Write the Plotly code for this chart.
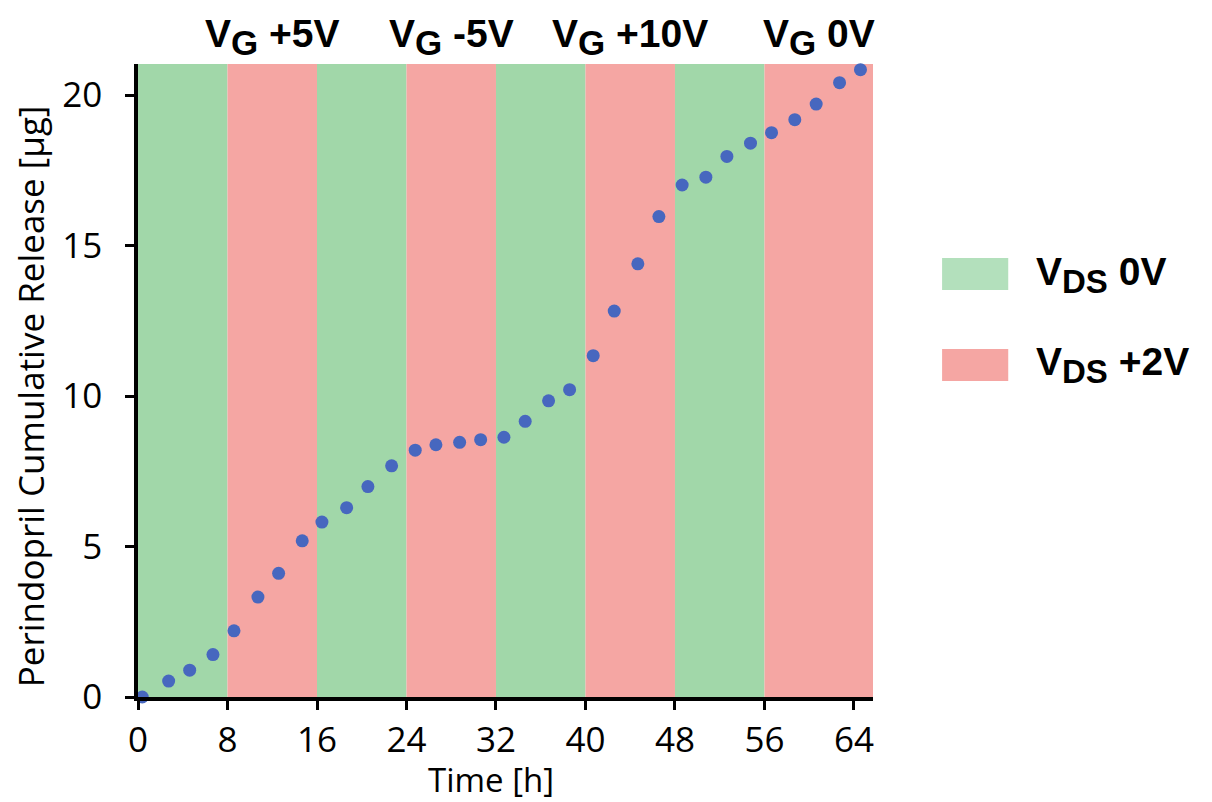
import plotly.graph_objects as go

# ---- data ----
time_h = [0.38, 2.74, 4.62, 6.70, 8.58, 10.72, 12.57, 14.68, 16.44, 18.65, 20.55,
          22.67, 24.78, 26.63, 28.75, 30.63, 32.71, 34.61, 36.70, 38.58, 40.69,
          42.57, 44.68, 46.56, 48.64, 50.76, 52.64, 54.75, 56.63, 58.71, 60.62,
          62.71, 64.58]
release_ug = [0.0, 0.53, 0.89, 1.41, 2.20, 3.32, 4.11, 5.19, 5.81, 6.29, 6.99,
              7.68, 8.20, 8.38, 8.46, 8.55, 8.63, 9.16, 9.84, 10.21, 11.34,
              12.82, 14.39, 15.96, 17.01, 17.27, 17.96, 18.40, 18.75, 19.18, 19.70,
              20.41, 20.84]

band_edges = [0, 8, 16, 24, 32, 40, 48, 56, 65.7]
band_state = ["0V", "+2V", "0V", "+2V", "0V", "+2V", "0V", "+2V"]
vg_labels = ["+5V", "-5V", "+10V", "0V"]
x_ticks = [0, 8, 16, 24, 32, 40, 48, 56, 64]
y_ticks = [0, 5, 10, 15, 20]

GREEN = "#A1D7A9"
RED = "#F5A6A3"
LEG_GREEN = "#B3E0BC"
DOT = "#4767BF"

fig = go.Figure()

# background bands
for i, st in enumerate(band_state):
    fig.add_shape(type="rect", xref="x", yref="paper",
                  x0=band_edges[i], x1=band_edges[i + 1], y0=0, y1=1,
                  fillcolor=GREEN if st == "0V" else RED, line_width=0,
                  layer="below")

fig.add_trace(go.Scatter(x=time_h, y=release_ug, mode="markers",
                         marker=dict(color=DOT, size=13),
                         cliponaxis=False, showlegend=False))

bold_font = dict(family="Liberation Sans", size=39, color="black", weight="bold")

# V_G labels over the +2V bands
red_idx = [i for i, s in enumerate(band_state) if s == "+2V"]
for lab, i in zip(vg_labels, red_idx):
    xc = (band_edges[i] + band_edges[i + 1]) / 2
    fig.add_annotation(x=xc, xref="x", y=1.0, yref="paper",
                       yanchor="bottom", xanchor="center", showarrow=False,
                       text="V<sub><span style='font-size:35px'>G</span></sub> " + lab,
                       font=bold_font)

# custom legend
leg_items = [("0V", LEG_GREEN, 0.6935, 0.643, 0.667),
             ("+2V", RED, 0.5498, 0.4992, 0.5245)]
for txt, col, yt, yb, ym in leg_items:
    fig.add_shape(type="rect", xref="paper", yref="paper",
                  x0=1.094, x1=1.184, y0=yb, y1=yt, fillcolor=col, line_width=0)
    fig.add_annotation(x=1.219, xref="paper", y=ym, yref="paper",
                       xanchor="left", yanchor="middle", showarrow=False,
                       text="V<sub><span style='font-size:33px'>DS</span></sub> " + txt,
                       font=bold_font)

axis_font = dict(family="Open Sans", size=35, color="black")
fig.update_xaxes(range=[0, 65.7], tickmode="array", tickvals=x_ticks,
                 showgrid=False, zeroline=False, showline=True,
                 linecolor="black", linewidth=3.5, ticks="outside",
                 ticklen=9, tickwidth=3, tickcolor="black",
                 tickfont=axis_font)
fig.update_yaxes(range=[0, 21.03], tickmode="array", tickvals=y_ticks,
                 showgrid=False, zeroline=False, showline=True,
                 linecolor="black", linewidth=3.5, ticks="outside",
                 ticklen=9, tickwidth=3, tickcolor="black",
                 tickfont=axis_font, ticklabelstandoff=16)

# axis titles
fig.add_annotation(text="Time [h]", x=0.48, xref="paper", y=-0.131, yref="paper",
                   xanchor="center", yanchor="middle", showarrow=False,
                   font=dict(family="Open Sans", size=33, color="black"))
fig.add_annotation(text="Perindopril Cumulative Release [µg]", textangle=-90,
                   x=-0.147, xref="paper", y=0.475, yref="paper",
                   xanchor="center", yanchor="middle", showarrow=False,
                   font=dict(family="Open Sans", size=35, color="black"))

fig.update_layout(width=1212, height=802,
                  margin=dict(l=130, r=347, t=56, b=113),
                  plot_bgcolor="white", paper_bgcolor="white",
                  showlegend=False)

fig.write_html("out.html")
